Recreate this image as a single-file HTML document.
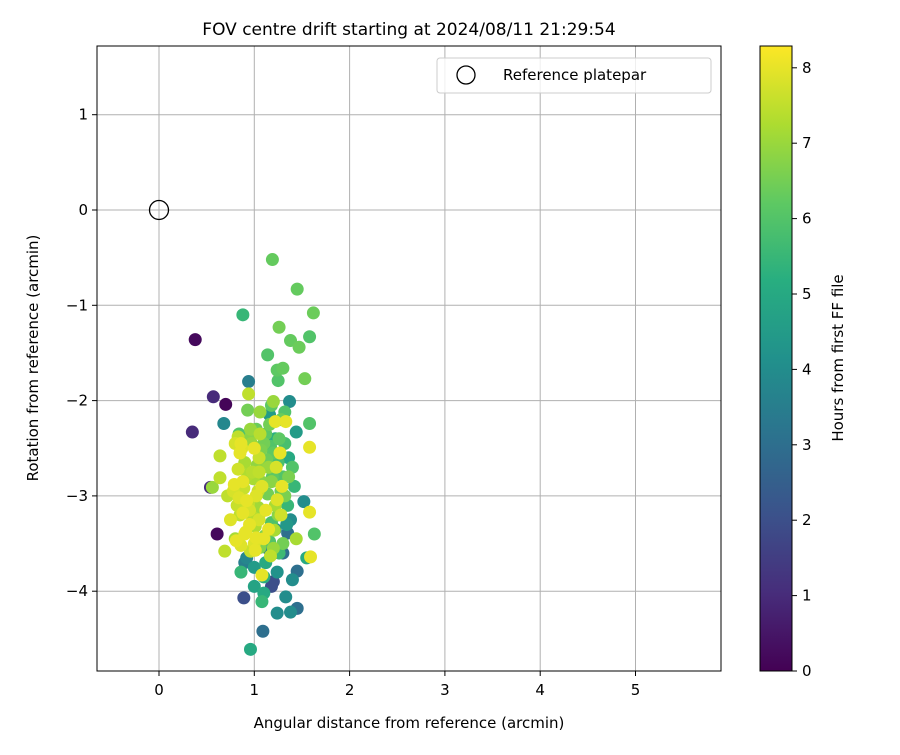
<!DOCTYPE html>
<html><head><meta charset="utf-8"><style>
body{margin:0;background:#fff;}
svg text{font-family:"DejaVu Sans","Liberation Sans",sans-serif;fill:#000;}
</style></head><body>
<svg id="chart" width="900" height="750" xmlns="http://www.w3.org/2000/svg">
<defs><linearGradient id="vir" x1="0" y1="1" x2="0" y2="0">
<stop offset="0" stop-color="#440154"/><stop offset="0.125" stop-color="#472d7b"/><stop offset="0.25" stop-color="#3b528b"/><stop offset="0.375" stop-color="#2c728e"/><stop offset="0.5" stop-color="#21918c"/><stop offset="0.625" stop-color="#28ae80"/><stop offset="0.75" stop-color="#5ec962"/><stop offset="0.875" stop-color="#addc30"/><stop offset="1" stop-color="#fde725"/></linearGradient>
<clipPath id="clip"><rect x="97" y="46" width="624" height="625"/></clipPath></defs>
<g id="grid"></g>
<g id="pts" clip-path="url(#clip)"></g>
<rect x="97" y="46" width="624" height="625" fill="none" stroke="#000" stroke-width="1"/>
<g id="axes"></g>
<text x="409" y="35" font-size="17" text-anchor="middle">FOV centre drift starting at 2024/08/11 21:29:54</text>
<text x="409" y="728" font-size="15" text-anchor="middle">Angular distance from reference (arcmin)</text>
<text transform="translate(38,358) rotate(-90)" font-size="15" text-anchor="middle">Rotation from reference (arcmin)</text>
<g>
<rect x="437" y="58" width="274" height="35" rx="3" fill="#fff" fill-opacity="0.8" stroke="#ccc"/>
<circle cx="466" cy="75" r="9" fill="none" stroke="#000" stroke-width="1.3"/>
<text x="503" y="80" font-size="15">Reference platepar</text>
</g>
<rect x="760" y="46" width="32" height="625" fill="url(#vir)" stroke="#000"/>
<g id="cbar"></g>
<text transform="translate(843,358) rotate(-90)" font-size="15" text-anchor="middle">Hours from first FF file</text>
</svg>
<script>
const xTicks=[0,1,2,3,4,5];
const yTicks=[1,0,-1,-2,-3,-4];
const cTicks=[0,1,2,3,4,5,6,7,8];
const ptX=[0.38,0.35,0.57,0.70,0.61,0.54,0.88,1.19,1.45,1.62,1.26,1.14,1.38,1.47,1.58,1.30,1.24,1.53,1.25,0.94,0.94,1.37,1.20,0.93,1.06,1.32,0.68,1.58,1.58,1.22,1.33,0.83,1.44,0.64,0.64,0.56,0.89,1.09,0.96,1.08,1.24,1.38,1.45,1.33,1.18,1.40,1.45,1.55,1.59,1.63,1.58,1.52,1.38,1.35,0.86,0.69,0.81,1.17,1.01,1.02,1.08,1.10,
0.80,0.85,0.90,0.95,1.00,1.05,1.10,1.15,1.20,1.25,1.30,0.78,0.88,0.98,1.08,1.18,1.28,0.82,0.92,1.02,1.12,1.22,1.32,0.75,0.85,0.95,1.05,1.15,1.25,1.35,0.80,0.90,1.00,1.10,1.20,1.30,0.72,0.84,0.96,1.06,1.16,1.26,1.36,0.90,1.00,1.12,1.24,1.40,1.42,1.30,1.20,1.10,1.00,0.92,1.16,1.28,1.36,1.05,0.95,1.22,1.14,1.34,1.44,1.18,0.86,1.04,
0.87,0.97,1.07,1.17,1.27,0.83,0.93,1.03,1.13,1.23,0.79,0.89,0.99,1.09,1.19,1.29,0.84,0.94,1.04,1.14,1.24,0.88,0.98,1.08,1.18,1.28,0.91,1.01,1.11,1.21,0.86,0.96,1.06,1.16,1.26,1.12,1.22,1.32,1.02,0.92],
ptY=[-1.36,-2.33,-1.96,-2.04,-3.40,-2.91,-1.10,-0.52,-0.83,-1.08,-1.23,-1.52,-1.37,-1.44,-1.33,-1.66,-1.68,-1.77,-1.79,-1.80,-1.93,-2.01,-2.01,-2.10,-2.12,-2.12,-2.24,-2.24,-2.49,-2.22,-2.22,-2.38,-2.33,-2.58,-2.81,-2.91,-4.07,-4.42,-4.61,-4.11,-4.23,-4.22,-4.18,-4.06,-3.95,-3.88,-3.79,-3.65,-3.64,-3.40,-3.17,-3.06,-3.25,-3.39,-3.80,-3.58,-3.47,-3.63,-3.57,-3.44,-3.83,-4.02,
-2.45,-2.55,-2.65,-2.40,-2.50,-2.60,-2.45,-2.70,-2.55,-2.65,-2.80,-2.95,-2.85,-2.75,-2.90,-2.85,-2.95,-3.10,-3.05,-3.00,-3.15,-3.10,-3.00,-3.25,-3.20,-3.30,-3.25,-3.35,-3.20,-3.10,-3.45,-3.40,-3.50,-3.45,-3.55,-3.50,-3.00,-2.35,-2.30,-2.35,-2.25,-2.40,-2.60,-3.70,-3.75,-3.70,-3.80,-2.70,-2.90,-3.60,-3.90,-3.85,-3.95,-3.65,-2.15,-2.20,-2.80,-2.75,-3.15,-3.35,-3.55,-3.30,-3.45,-2.05,-2.45,-2.95,
-2.50,-2.45,-2.52,-2.48,-2.55,-2.72,-2.78,-2.68,-2.62,-2.70,-2.88,-2.92,-2.82,-2.86,-2.80,-2.90,-3.02,-3.08,-3.12,-2.98,-3.04,-3.18,-3.22,-3.16,-3.28,-3.20,-3.38,-3.32,-3.42,-3.36,-3.52,-3.58,-3.54,-3.48,-3.60,-2.35,-2.40,-2.45,-2.30,-2.28],
ptC=[0.2,1,1,0.1,0.2,1,5.5,6.3,6.3,6.4,6.5,6,6.3,6.4,6,6.3,6.2,6.5,6,3.5,7.5,4,7,6.5,7,6,3.8,6,8,8,8,7.5,4.5,7.5,7.5,7,2,3,5,5.5,4,4,3,4,2,4,3,5,8,6,8,4,4,3,5.5,7.5,8,7.5,8,8,8,5,
7.8,8,7.2,6.8,8,7.6,6.5,7,6.2,5.8,6,7.8,8,7.4,7.9,6.8,6.4,7.6,8,7.9,8,7.2,6.6,7.9,7.5,8,7.8,8,6.8,5.5,7.2,8,7.9,8,7,6.5,7.5,6,7,7.4,6.5,6.2,5,3.5,4.5,5,4.2,6,5.5,3,2,5.2,4.8,3.8,4.5,6.4,6.6,7.5,7.8,4,3.6,4.4,7.2,6.2,8,
7.6,7.9,7.0,6.6,6.0,8.0,7.7,7.3,6.9,6.4,7.8,8.0,7.6,7.2,6.8,6.2,8.0,7.9,7.5,7.1,6.5,7.9,8.0,7.4,6.9,5.9,7.7,8.0,7.3,6.6,7.2,7.9,7.6,6.7,6.0,5.6,6.2,5.2,5.8,6.4];
const X0=159,XS=95.3,Y0=210,YS=95.3,C0=671,CS=75.4;
const xs=v=>X0+v*XS, ys=v=>Y0-v*YS, cs=v=>C0-v*CS;
const NS="http://www.w3.org/2000/svg";
function mk(tag,at,par){const e=document.createElementNS(NS,tag);for(const k in at)e.setAttribute(k,at[k]);document.getElementById(par).appendChild(e);return e;}
const vir=["#440154","#472d7b","#3b528b","#2c728e","#21918c","#28ae80","#5ec962","#addc30","#fde725"];
function col(c){let t=Math.max(0,Math.min(1,c/8.3))*8;let i=Math.min(7,Math.floor(t)),f=t-i;
const a=parseInt(vir[i].slice(1),16),b=parseInt(vir[i+1].slice(1),16);
const m=s=>Math.round(((a>>s)&255)*(1-f)+((b>>s)&255)*f);return "rgb("+m(16)+","+m(8)+","+m(0)+")";}
xTicks.forEach(t=>{const x=xs(t);
let g=mk('line',{x1:x,x2:x,y1:46,y2:671,stroke:'#b0b0b0','stroke-width':1},'grid');


let l=mk('line',{x1:x,x2:x,y1:671,y2:676,stroke:'#000'},'axes');


let s=mk('text',{x:x,y:695,'font-size':15,'text-anchor':'middle'},'axes');s.textContent=t;

});
yTicks.forEach(t=>{const y=ys(t);
let g=mk('line',{x1:97,x2:721,y1:y,y2:y,stroke:'#b0b0b0','stroke-width':1},'grid');


let l=mk('line',{x1:92,x2:97,y1:y,y2:y,stroke:'#000'},'axes');


let s=mk('text',{x:88,y:y+5,'font-size':15,'text-anchor':'end'},'axes');s.textContent=t<0?'\u2212'+(-t):String(t);

});
cTicks.forEach(t=>{const y=cs(t);
let l=mk('line',{x1:792,x2:797,y1:y,y2:y,stroke:'#000'},'cbar');


let s=mk('text',{x:802,y:y+5,'font-size':15},'cbar');s.textContent=t;

});
const n=Math.min(ptX.length,ptY.length,ptC.length);
const idx=[];for(let i=0;i<n;i++)idx.push(i);
idx.sort((a,b)=>ptC[a]-ptC[b]);
idx.forEach(i=>{const p=mk('circle',{cx:xs(ptX[i]),cy:ys(ptY[i]),r:6.5,fill:col(ptC[i])},'pts');

});
const r=mk('circle',{cx:xs(0),cy:ys(0),r:9.5,fill:'none',stroke:'#000','stroke-width':1.3},'pts');


</script>
</body></html>
